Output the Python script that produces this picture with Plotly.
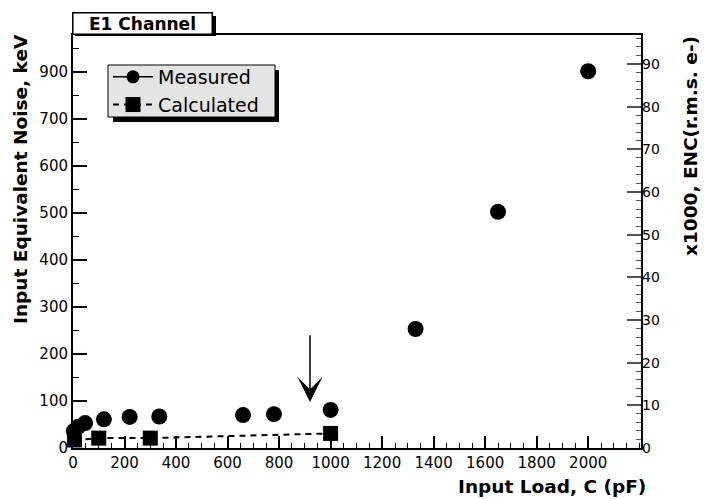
import plotly.graph_objects as go

# ---------------- data ----------------
measured_x = [3, 20, 47, 120, 220, 335, 660, 780, 1000, 1330, 1650, 2000]
measured_y = [36, 45, 53, 61, 66, 67, 70, 72, 81, 253, 502, 801]
calc_x = [6, 100, 300, 1000]
calc_y = [17, 21, 21, 31]

x_tick_vals = [0, 200, 400, 600, 800, 1000, 1200, 1400, 1600, 1800, 2000]
y_tick_vals = [0, 100, 200, 300, 400, 500, 600, 700, 800]
y_tick_text = ["0", "100", "200", "300", "400", "500", "600", "700", "900"]
y2_tick_vals = [0, 10, 20, 30, 40, 50, 60, 70, 80, 90]

arrow_x = 920
arrow_tip_y = 98
arrow_tail_y = 243

# ---------------- geometry ----------------
W, H = 704, 499
L, R, T, B = 73, 63, 35, 51
PW = W - L - R
PH = H - T - B
FONT = "DejaVu Sans"


def px_x(px):
    return (px - L) / PW


def px_y(py):
    return (H - B - py) / PH


fig = go.Figure()

# legend proxy for Measured (legend shows line + circle)
fig.add_trace(go.Scatter(
    x=[None], y=[None], mode="lines+markers", name="Measured",
    line=dict(color="black", width=1.5),
    marker=dict(symbol="circle", size=13, color="black"),
    legendgroup="m",
))
fig.add_trace(go.Scatter(
    x=calc_x, y=calc_y, mode="lines+markers", name="Calculated",
    line=dict(color="black", width=2, dash="6px,5px"),
    marker=dict(symbol="square", size=15, color="black"),
    cliponaxis=False, hoverinfo="x+y",
))
fig.add_trace(go.Scatter(
    x=measured_x, y=measured_y, mode="markers", name="Measured",
    marker=dict(symbol="circle", size=16, color="black"),
    showlegend=False, legendgroup="m", cliponaxis=False,
))
# carrier for right axis
fig.add_trace(go.Scatter(x=[None], y=[None], yaxis="y2", showlegend=False,
                         mode="markers", hoverinfo="skip"))

tickfont = dict(family=FONT, size=15, color="black")

fig.update_layout(
    width=W, height=H,
    margin=dict(l=L, r=R, t=T, b=B, pad=0),
    paper_bgcolor="white", plot_bgcolor="white",
    font=dict(family=FONT, color="black"),
    xaxis=dict(
        range=[0, 2205], showgrid=False, zeroline=False,
        showline=True, linecolor="black", linewidth=2, mirror=True,
        ticks="inside", ticklen=12, tickwidth=1.5, tickcolor="black",
        tickmode="array", tickvals=x_tick_vals, tickfont=tickfont,
        minor=dict(tickmode="array", tickvals=list(range(0, 2201, 50)),
                   ticks="inside", ticklen=5, tickwidth=1, tickcolor="black"),
    ),
    yaxis=dict(
        range=[0, 878], showgrid=False, zeroline=False,
        showline=True, linecolor="black", linewidth=2, mirror=True,
        ticks="inside", ticklen=14, tickwidth=1.5, tickcolor="black",
        tickmode="array", tickvals=y_tick_vals, ticktext=y_tick_text,
        tickfont=tickfont,
        minor=dict(tickmode="array", tickvals=list(range(0, 878, 50)),
                   ticks="inside", ticklen=6, tickwidth=1, tickcolor="black"),
    ),
    yaxis2=dict(
        overlaying="y", side="right", range=[0, 96.8],
        showgrid=False, zeroline=False, showline=False,
        ticks="inside", ticklen=14, tickwidth=1.5, tickcolor="#555555",
        tickmode="array", tickvals=y2_tick_vals,
        tickfont=dict(family=FONT, size=14, color="black"),
        minor=dict(tickmode="array", tickvals=list(range(0, 97, 2)),
                   ticks="inside", ticklen=5, tickwidth=1, tickcolor="#555555"),
    ),
    legend=dict(
        x=px_x(108), y=px_y(58), xanchor="left", yanchor="top",
        bgcolor="rgba(0,0,0,0)", borderwidth=0,
        font=dict(family=FONT, size=19, color="black"),
        itemwidth=40, tracegroupgap=0,
    ),
    showlegend=True,
)

# title box shadow
fig.add_shape(type="rect", xref="paper", yref="paper",
              x0=px_x(75), x1=px_x(216), y0=px_y(36), y1=px_y(16),
              fillcolor="black", line=dict(width=0), layer="above")
# legend box: shadow + panel
fig.add_shape(type="rect", xref="paper", yref="paper",
              x0=px_x(113), x1=px_x(279), y0=px_y(122), y1=px_y(70),
              fillcolor="black", line=dict(width=0), layer="above")
fig.add_shape(type="rect", xref="paper", yref="paper",
              x0=px_x(108), x1=px_x(275), y0=px_y(117), y1=px_y(65),
              fillcolor="#e4e4e4", line=dict(color="black", width=1),
              layer="above")

# title box
fig.add_annotation(
    text="<b>E1 Channel</b>", xref="paper", yref="paper",
    x=px_x(72), y=px_y(35), xanchor="left", yanchor="bottom",
    showarrow=False, bgcolor="white", bordercolor="black", borderwidth=1.5,
    borderpad=1, width=136, height=18,
    font=dict(family=FONT, size=17, color="black"),
)

# axis titles
fig.add_annotation(
    text="<b>Input Equivalent Noise, keV</b>", xref="paper", yref="paper",
    x=px_x(20), y=px_y(179), xanchor="center", yanchor="middle",
    textangle=-90, showarrow=False,
    font=dict(family=FONT, size=18.5, color="black"),
)
fig.add_annotation(
    text="<b>Input Load, C (pF)</b>", xref="paper", yref="paper",
    x=px_x(648), y=px_y(486), xanchor="right", yanchor="middle",
    showarrow=False, font=dict(family=FONT, size=18.5, color="black"),
)
fig.add_annotation(
    text="<b>x1000, ENC(r.m.s. e-)</b>", xref="paper", yref="paper",
    x=px_x(690), y=px_y(146), xanchor="center", yanchor="middle",
    textangle=-90, showarrow=False,
    font=dict(family=FONT, size=18.5, color="black"),
)

# arrow
fig.add_annotation(
    x=arrow_x, y=arrow_tip_y, ax=arrow_x, ay=arrow_tail_y,
    xref="x", yref="y", axref="x", ayref="y",
    text="", showarrow=True, arrowhead=3, arrowsize=2.8, arrowwidth=1.5,
    arrowcolor="black",
)

fig.write_html("out.html")
